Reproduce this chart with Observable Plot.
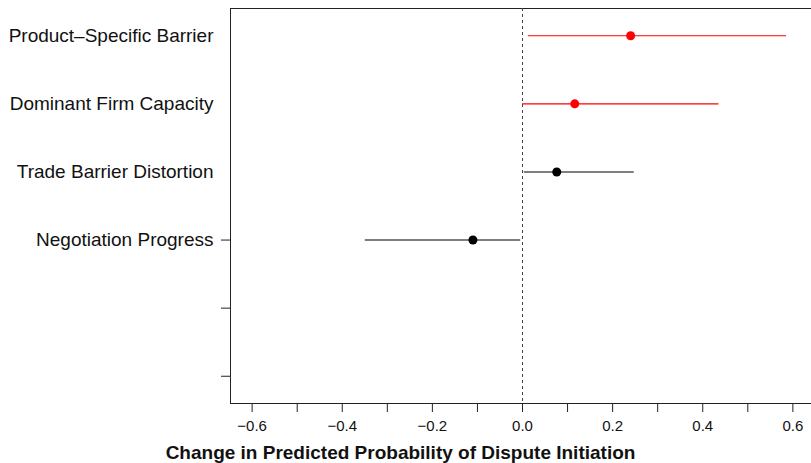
<!DOCTYPE html>
<html>
<head>
<meta charset="utf-8">
<script src="https://cdn.jsdelivr.net/npm/d3@7"></script>
<script src="https://cdn.jsdelivr.net/npm/@observablehq/plot@0.6"></script>
<style>
  html, body { margin: 0; padding: 0; background: #fff; }
  #chart svg { display: block; }
</style>
</head>
<body>
<div id="chart"></div>
<script>
// Data
const labels = ["Product–Specific Barrier", "Dominant Firm Capacity", "Trade Barrier Distortion", "Negotiation Progress"];
const estimates = [0.240, 0.116, 0.076, -0.110];
const lower = [0.013, 0.000, 0.004, -0.349];
const upper = [0.586, 0.436, 0.248, -0.004];
const colors = ["red", "red", "black", "black"];
const tickedRows = [4, 5, 6];          // rows with a tick mark on the y axis
const xTicks = d3.range(-6, 7).map(d => d / 10);
const xTitle = "Change in Predicted Probability of Dispute Initiation";

const data = labels.map((label, i) => ({
  label, row: i + 1, est: estimates[i], lo: lower[i], hi: upper[i], color: colors[i]
}));

const fmt = d => {
  const k = Math.round(d * 10);
  if (k % 2 !== 0) return "";
  return (d < 0 ? "\u2212" : "") + Math.abs(d).toFixed(1);
};

const chart = Plot.plot({
  width: 811,
  height: 463,
  marginLeft: 230,
  marginRight: -3,
  marginTop: 8,
  marginBottom: 60,
  style: { fontFamily: "'Liberation Sans', Arial, Helvetica, sans-serif", background: "#fff" },
  x: { domain: [-0.648, 0.648] },
  y: { domain: [6.4, 0.6] },
  marks: [
    Plot.frame({ stroke: "#222", strokeWidth: 1 }),
    Plot.ruleX([0], { stroke: "#444", strokeDasharray: "3,3", strokeWidth: 1 }),
    Plot.axisX({
      ticks: xTicks, tickFormat: fmt, tickSize: 9, tickPadding: 8,
      fontSize: 15, label: null, stroke: "#222", color: "#111"
    }),
    Plot.axisY({
      ticks: tickedRows, tickFormat: () => "", tickSize: 9, label: null, stroke: "#222"
    }),
    Plot.axisY({
      ticks: data.map(d => d.row), tickFormat: r => labels[r - 1], tickSize: 0, tickPadding: 17,
      fontSize: 19, label: null, color: "#111"
    }),
    Plot.ruleY(data, { y: "row", x1: "lo", x2: "hi", stroke: "color", strokeWidth: 1.1 }),
    Plot.dot(data, { x: "est", y: "row", r: 4.5, fill: "color", stroke: "none" }),
    Plot.text([xTitle], {
      frameAnchor: "bottom", dx: -122, dy: 55, fontSize: 19, fontWeight: "bold", fill: "#111"
    })
  ]
});
document.getElementById("chart").appendChild(chart);
</script>
</body>
</html>
